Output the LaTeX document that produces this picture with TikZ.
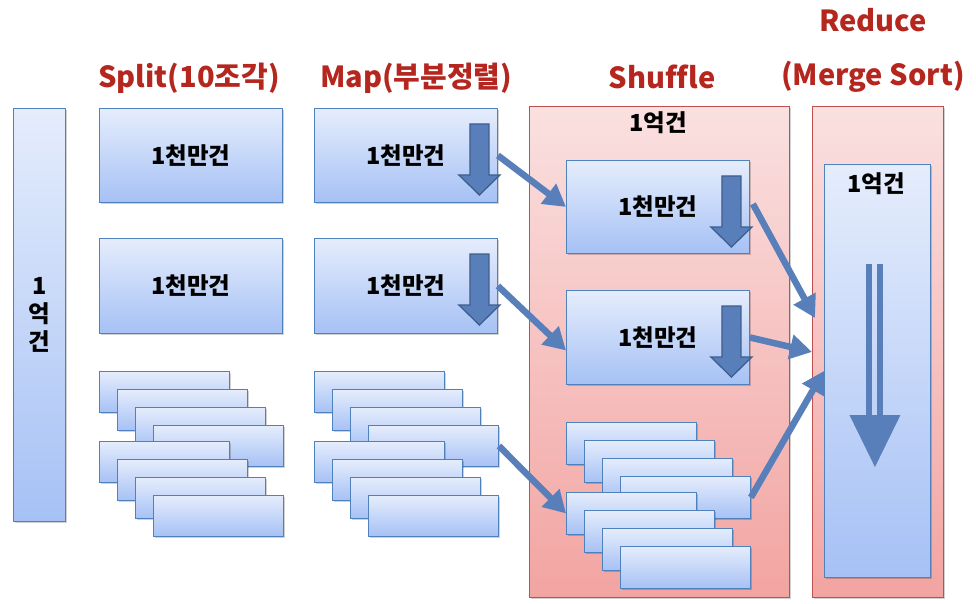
\documentclass[tikz,border=0pt]{standalone}
\usepackage{fontspec}
\setmainfont{Noto Sans CJK KR}[Ligatures=NoCommon]
\usetikzlibrary{arrows.meta,shadows,calc}
\definecolor{hdrred}{RGB}{180,38,30}
\definecolor{bline}{RGB}{79,129,189}
\definecolor{btop}{RGB}{229,237,252}
\definecolor{bbot}{RGB}{166,193,245}
\definecolor{ptop}{RGB}{250,224,224}
\definecolor{pbot}{RGB}{242,164,161}
\definecolor{pline}{RGB}{192,80,77}
\definecolor{arrblue}{RGB}{88,127,186}
\definecolor{arrdark}{RGB}{62,94,142}
\newcommand\hdrfont{\fontsize{29}{33}\selectfont\bfseries}
\newcommand\bodyfont{\fontsize{23.5}{29}\selectfont\bfseries}
\tikzset{
  softshadow/.style={drop shadow={shadow xshift=1.2pt,shadow yshift=-1.8pt,fill=black,opacity=0.18}},
  bbox/.style={draw=bline,line width=0.9pt,top color=btop,bottom color=bbot,anchor=north west,inner sep=0pt,font=\bodyfont,softshadow},
  pbox/.style={draw=pline,line width=0.9pt,top color=ptop,bottom color=pbot,anchor=north west,inner sep=0pt,softshadow},
  hdrtext/.style={text=hdrred,font=\hdrfont,inner sep=0pt},
  bodytext/.style={font=\bodyfont,inner sep=0pt},
  conn/.style={draw=arrblue,line width=6.5pt,-{Triangle[length=22pt,width=24pt]}},
  blk/.style={fill=arrblue,draw=arrdark,line width=1.3pt,line join=miter},
  solidblue/.style={fill=arrblue,draw=none},
}
\newcommand\blockarr[1]{%
  \draw[blk] ($(#1.north east)+(-28,16)$) -- ($(#1.north east)+(-9,16)$) -- ($(#1.north east)+(-9,67)$) -- ($(#1.north east)+(2,67)$) -- ($(#1.north east)+(-18.5,87)$) -- ($(#1.north east)+(-39,67)$) -- ($(#1.north east)+(-28,67)$) -- cycle;}
\begin{document}
\begin{tikzpicture}[x=1pt,y=-1pt]
\useasboundingbox (0,0) rectangle (976,604);
% headers
\node[hdrtext] (hsplit) at (189,78) {Split(10조각)};
\node[hdrtext] (hmap) at (416,78) {Map(부분정렬)};
\node[hdrtext] (hshuf) at (662,77) {Shuffle};
\node[hdrtext] (hred) at (873,20) {Reduce};
\node[hdrtext] (hmerge) at (873,77) {(Merge Sort)};
% big background boxes
\node[pbox,minimum width=260pt,minimum height=491pt] (shuf) at (529,106) {};
\node[pbox,minimum width=131pt,minimum height=491pt] (red) at (812,106) {};
\node[bodytext] (shufL) at (658,123) {1억건};
% left column
\node[bbox,minimum width=52pt,minimum height=413pt,align=center] (all) at (13,108) {1\\[-1pt]억\\[-1pt]건};
% split column
\node[bbox,minimum width=183pt,minimum height=94pt] (s1) at (99,108) {1천만건};
\node[bbox,minimum width=183pt,minimum height=95pt] (s2) at (99,238) {1천만건};
\foreach \g/\gy in {1/0,2/70}
  \foreach \k in {0,...,3}
    \node[bbox,minimum width=130pt,minimum height=41pt] (sp\g\k) at ({99+18*\k},{371+\gy+18*\k}) {};
% map column
\node[bbox,minimum width=183pt,minimum height=94pt] (m1) at (314,108) {1천만건};
\node[bbox,minimum width=183pt,minimum height=95pt] (m2) at (314,238) {1천만건};
\blockarr{m1}
\blockarr{m2}
\foreach \g/\gy in {1/0,2/70}
  \foreach \k in {0,...,3}
    \node[bbox,minimum width=130pt,minimum height=41pt] (mp\g\k) at ({314+18*\k},{371+\gy+18*\k}) {};
% shuffle column
\node[bbox,minimum width=183pt,minimum height=93pt] (h1) at (566,160) {1천만건};
\node[bbox,minimum width=183pt,minimum height=94pt] (h2) at (566,290) {1천만건};
\blockarr{h1}
\blockarr{h2}
\foreach \g/\gy in {1/0,2/70}
  \foreach \k in {0,...,3}
    \node[bbox,minimum width=130pt,minimum height=42pt] (hp\g\k) at ({566+18*\k},{422+\gy+18*\k}) {};
% reduce column
\node[bbox,minimum width=106pt,minimum height=413pt] (ri) at (824,164) {};
\node[bodytext] (redL) at (876,184) {1억건};
\fill[solidblue] ($(ri.north)+(-11,100)$) rectangle ($(ri.north)+(-5,251)$);
\fill[solidblue] ($(ri.north)+(0,100)$) rectangle ($(ri.north)+(6,251)$);
\fill[solidblue] ($(ri.north)+(-28,251)$) -- ($(ri.north)+(23,251)$) -- ($(ri.north)+(-2.5,303)$) -- cycle;
% connectors
\draw[conn] (m1.east) -- (h1.west);
\draw[conn] (m2.east) -- ($(h2.west)+(0,13)$);
\draw[conn] (mp13.east) -- (hp20.west);
\draw[conn] ($(h1.east)+(3,-3)$) -- ($(red.west)+(3,-34)$);
\draw[conn] (h2.east) -- (red.west);
\draw[conn] (hp13.east) -- (ri.west);
\end{tikzpicture}
\end{document}
